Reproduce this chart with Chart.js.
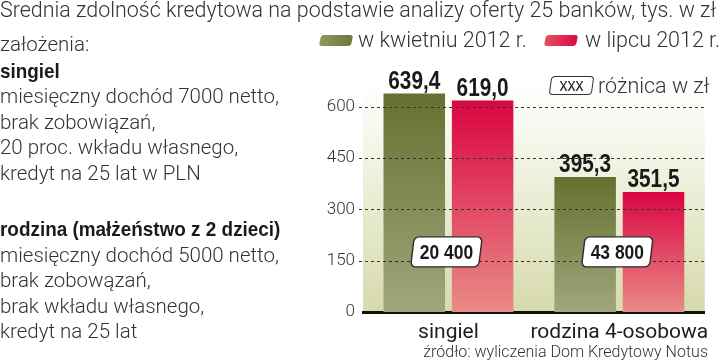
<!DOCTYPE html>
<html lang="pl">
<head>
<meta charset="utf-8">
<script src="https://cdn.jsdelivr.net/npm/chart.js@4"></script>
<style>
  html, body { margin: 0; padding: 0; background: #fff; }
  #wrap { position: relative; width: 720px; height: 364px; overflow: hidden; font-family: Roboto, "Open Sans", sans-serif; color: #333; }
  #wykres { position: absolute; left: 0; top: 0; }
  .t { position: absolute; z-index: 2; white-space: nowrap; font-weight: 300; }
  #tytul { left: 0; top: -2px; font-size: 21.45px; line-height: 24px; }
  .opis { left: 0; font-size: 20.5px; line-height: 25.6px; }
  .opis b { display: inline-block; font-family: "Liberation Sans", Arial, sans-serif; font-weight: 700; font-size: 21px; color: #1a1a1a; transform: scaleX(0.9); transform-origin: 0 50%; }
  .lg { position: absolute; z-index: 2; width: 32px; height: 11px; border-radius: 3px; transform: skewX(-12deg); }
  #lgZ { left: 320px; top: 35px; background: linear-gradient(90deg, #8c9660, #6f7a3a); }
  #lgC { left: 545px; top: 35px; background: linear-gradient(90deg, #e8505f, #d80a44); }
  .lt { top: 28px; font-size: 21.5px; line-height: 24px; }
  #xxx { position: absolute; z-index: 2; left: 550px; top: 76px; width: 41px; height: 17px; border: 1.3px solid #333; border-radius: 4px; transform: skewX(-8deg); background: #fff; }
  #xxx span { display: block; transform: skewX(8deg) scaleX(0.85); text-align: center; font: 19px/16px "Liberation Sans", Arial, sans-serif; color: #222; }
  #zrodlo { right: 12px; top: 342px; font-size: 16px; line-height: 20px; }
</style>
</head>
<body>
<div id="wrap">
  <canvas id="wykres" width="720" height="364"></canvas>
  <div class="t" id="tytul">Średnia zdolność kredytowa na podstawie analizy oferty 25 banków, tys. w zł</div>
  <div class="t opis" style="top:32px">założenia:<br><b>singiel</b><br>miesięczny dochód 7000 netto,<br>brak zobowiązań,<br>20 proc. wkładu własnego,<br>kredyt na 25 lat w PLN</div>
  <div class="t opis" style="top:216px"><b>rodzina (małżeństwo z 2 dzieci)</b><br>miesięczny dochód 5000 netto,<br>brak zobowązań,<br>brak wkładu własnego,<br>kredyt na 25 lat</div>
  <div class="lg" id="lgZ"></div>
  <div class="t lt" style="left:358px">w kwietniu 2012 r.</div>
  <div class="lg" id="lgC"></div>
  <div class="t lt" style="left:585px">w lipcu 2012 r.</div>
  <div id="xxx"><span>xxx</span></div>
  <div class="t" style="left:598px; top:74px; font-size:21.5px; line-height:24px">różnica w zł</div>
  <div class="t" id="zrodlo">źródło: wyliczenia Dom Kredytowy Notus</div>
</div>
<script>
// dane (tys. zł)
const kategorie = ['singiel', 'rodzina 4-osobowa'];
const kwiecien = [639.4, 395.3];
const lipiec = [619.0, 351.5];
const roznice = [20400, 43800];
const tickiY = [0, 150, 300, 450, 600];

const BOLD = '"Liberation Sans", Arial, sans-serif';

function gradientSlupka(ctx, gora, dol) {
  const chart = ctx.chart;
  const y = chart.scales.y;
  if (!y || !chart.chartArea || ctx.raw === undefined) return dol;
  const top = y.getPixelForValue(ctx.raw);
  const base = y.getPixelForValue(0);
  const g = chart.ctx.createLinearGradient(0, top, 0, base);
  g.addColorStop(0, gora);
  g.addColorStop(1, dol);
  return g;
}

function fmtWartosc(v){ return v.toFixed(1).replace('.', ','); }
function fmtRoznica(v){ return String(v).replace(/\B(?=(\d{3})+(?!\d))/g, ' '); }

// tekst zwężony w poziomie (font typu condensed)
function tekstWaski(ctx, txt, x, y, skala){
  ctx.save();
  ctx.translate(x, y);
  ctx.scale(skala, 1);
  ctx.fillText(txt, 0, 0);
  ctx.restore();
}

// tło obszaru wykresu
const tlo = {
  id: 'tlo',
  beforeDraw(chart){
    const { ctx, chartArea: a } = chart;
    const g = ctx.createLinearGradient(0, a.top, 0, a.bottom);
    g.addColorStop(0, '#ffffff');
    g.addColorStop(0.08, '#fdfdfa');
    g.addColorStop(1, '#d6daab');
    ctx.save();
    ctx.fillStyle = g;
    ctx.fillRect(a.left, a.top, a.right - a.left, a.bottom - a.top);
    ctx.restore();
  }
};

// przerywane linie siatki nad słupkami
const siatka = {
  id: 'siatka',
  afterDatasetsDraw(chart){
    const { ctx, chartArea: a } = chart;
    const y = chart.scales.y;
    ctx.save();
    ctx.strokeStyle = '#333';
    ctx.lineWidth = 1;
    ctx.setLineDash([3, 3]);
    tickiY.filter(v => v > 0).forEach(v => {
      const py = Math.round(y.getPixelForValue(v)) + 0.5;
      ctx.beginPath();
      ctx.moveTo(a.left - 4, py);
      ctx.lineTo(a.right, py);
      ctx.stroke();
    });
    ctx.restore();
  }
};

// wartości nad słupkami i ramki z różnicą
const etykiety = {
  id: 'etykiety',
  afterDraw(chart){
    const { ctx } = chart;
    const x = chart.scales.x, y = chart.scales.y;
    ctx.save();
    ctx.fillStyle = '#1a1a1a';
    ctx.font = 'bold 26px ' + BOLD;
    ctx.textAlign = 'center';
    ctx.textBaseline = 'alphabetic';
    chart.data.datasets.forEach((ds, di) => {
      chart.getDatasetMeta(di).data.forEach((bar, i) => {
        tekstWaski(ctx, fmtWartosc(ds.data[i]), bar.x, bar.y - 5, 0.8);
      });
    });

    roznice.forEach((r, i) => {
      const cx = x.getPixelForValue(i) - 2;
      const cy = y.getPixelForValue(176);
      ctx.save();
      ctx.translate(cx, cy);
      ctx.transform(1, 0, -0.12, 1, 0, 0);
      ctx.beginPath();
      ctx.roundRect(-34, -15, 68, 30, 5);
      ctx.fillStyle = '#ffffff';
      ctx.fill();
      ctx.lineWidth = 1.4;
      ctx.strokeStyle = '#2a2a2a';
      ctx.stroke();
      ctx.restore();
      ctx.fillStyle = '#1a1a1a';
      ctx.font = 'bold 21px ' + BOLD;
      ctx.textBaseline = 'middle';
      tekstWaski(ctx, fmtRoznica(r), cx, cy + 1, 0.83);
    });
    ctx.restore();
  }
};

new Chart(document.getElementById('wykres'), {
  type: 'bar',
  data: {
    labels: kategorie,
    datasets: [
      {
        label: 'w kwietniu 2012 r.',
        data: kwiecien,
        backgroundColor: c => gradientSlupka(c, '#65712e', '#9fa77e')
      },
      {
        label: 'w lipcu 2012 r.',
        data: lipiec,
        backgroundColor: c => gradientSlupka(c, '#da0542', '#ea8b87')
      }
    ]
  },
  options: {
    responsive: false,
    animation: false,
    devicePixelRatio: 1,
    layout: { padding: { left: 318, right: 15, top: 80, bottom: 12 } },
    datasets: { bar: { barPercentage: 0.9, categoryPercentage: 0.8 } },
    plugins: { legend: { display: false }, tooltip: { enabled: false } },
    scales: {
      x: {
        z: 1,
        grid: { display: false, drawTicks: false },
        border: { display: true, color: '#111', width: 3 },
        ticks: { color: '#1e1e1e', padding: 8, autoSkip: false, maxRotation: 0, minRotation: 0, font: { family: 'Roboto', size: 21, weight: 400 } },
        afterFit: s => { s.height = 40; }
      },
      y: {
        min: 0,
        max: 679,
        afterBuildTicks: s => { s.ticks = tickiY.map(v => ({ value: v })); },
        grid: { display: false, drawTicks: false },
        border: { display: false },
        ticks: { color: '#333', padding: 8, font: { family: 'Roboto', size: 17, weight: 300 } },
        afterFit: s => { s.width = 45; }
      }
    }
  },
  plugins: [tlo, siatka, etykiety]
});
</script>
</body>
</html>
